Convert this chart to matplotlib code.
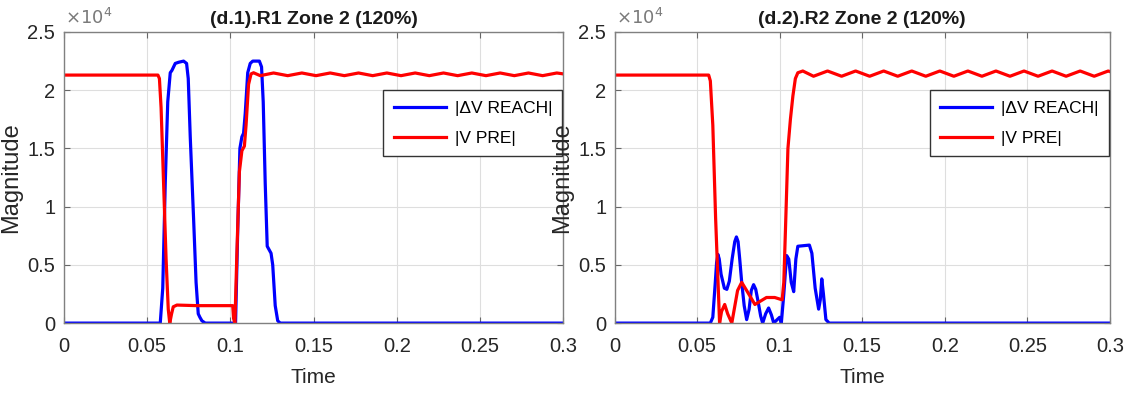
import numpy as np
import matplotlib
matplotlib.use("Agg")
import matplotlib.pyplot as plt
from matplotlib.ticker import FuncFormatter

plt.rcParams['font.family'] = ['Liberation Sans', 'DejaVu Sans']

SCALE = 1e4

# ---- (d.1) R1 : values in units of 1e4 ----
r1_reach_t = [0, 0.058, 0.0595, 0.061, 0.0625, 0.064, 0.065, 0.066, 0.067, 0.069, 0.072, 0.0738,
              0.0748, 0.076, 0.078, 0.0795, 0.0808, 0.0818, 0.083, 0.085, 0.1, 0.1032, 0.1045,
              0.1058, 0.107, 0.108, 0.109, 0.1105, 0.112, 0.1135, 0.1175, 0.1188, 0.1198,
              0.121, 0.1222, 0.1245, 0.1255, 0.127, 0.1285, 0.13, 0.3]
r1_reach_v = [0, 0, 0.3, 1.2, 1.9, 2.15, 2.17, 2.2, 2.23, 2.24, 2.25, 2.23, 2.1, 1.6, 0.9, 0.35,
              0.08, 0.05, 0.02, 0.0, 0.0, 0.0, 0.8, 1.5, 1.6, 1.63, 1.8, 2.15, 2.23, 2.25, 2.25,
              2.2, 1.9, 1.2, 0.66, 0.6, 0.5, 0.15, 0.02, 0.0, 0.0]

r1_pre_t = [0, 0.0566, 0.0575, 0.0585, 0.06, 0.0615, 0.0628, 0.0637, 0.0648, 0.0658, 0.068, 0.08,
            0.09, 0.1015, 0.102, 0.1028, 0.104, 0.1055, 0.107, 0.1085, 0.1095, 0.111,
            0.1125, 0.114, 0.118, 0.126, 0.1345, 0.143, 0.1515, 0.160, 0.1685, 0.177, 0.1855,
            0.194, 0.2025, 0.211, 0.2195, 0.228, 0.2365, 0.245, 0.2535, 0.262, 0.2705, 0.279,
            0.2875, 0.296, 0.3]
r1_pre_v = [2.13, 2.13, 2.1, 1.85, 1.2, 0.55, 0.12, 0.0, 0.08, 0.14, 0.155, 0.15, 0.15, 0.15, 0.04,
            0.0, 0.6, 1.3, 1.48, 1.52, 1.7, 2.05, 2.14, 2.15, 2.125, 2.148, 2.125, 2.148, 2.125,
            2.148, 2.125, 2.148, 2.125, 2.148, 2.125, 2.148, 2.125, 2.148, 2.125, 2.148, 2.125,
            2.148, 2.125, 2.148, 2.125, 2.148, 2.14]

# ---- (d.2) R2 ----
r2_reach_t = [0, 0.058, 0.0595, 0.061, 0.0618, 0.0626, 0.0634, 0.0645, 0.0665, 0.068, 0.0695,
              0.0712, 0.0728, 0.0738, 0.0748, 0.0758, 0.077, 0.0785, 0.08, 0.0815, 0.0828,
              0.0842, 0.0855, 0.087, 0.0885, 0.0897, 0.0915, 0.0933, 0.095, 0.0964, 0.0985,
              0.1, 0.101, 0.1025, 0.1042, 0.1055, 0.107, 0.1085, 0.1098, 0.111, 0.118, 0.1195,
              0.1215, 0.1236, 0.1246, 0.1255, 0.1265, 0.128, 0.13, 0.3]
r2_reach_v = [0, 0, 0.05, 0.35, 0.52, 0.59, 0.55, 0.42, 0.3, 0.29, 0.36, 0.55, 0.7, 0.74, 0.7,
              0.55, 0.35, 0.15, 0.03, 0.12, 0.28, 0.33, 0.29, 0.18, 0.06, 0.0, 0.08, 0.13, 0.07,
              0.0, 0.03, 0.05, 0.0, 0.25, 0.58, 0.55, 0.35, 0.27, 0.55, 0.66, 0.67, 0.6, 0.3,
              0.12, 0.2, 0.38, 0.25, 0.03, 0.0, 0.0]

r2_pre_t = [0, 0.057, 0.058, 0.0595, 0.0612, 0.0628, 0.0636, 0.0648, 0.0667, 0.0685, 0.071,
            0.0725, 0.0745, 0.077, 0.08, 0.085, 0.092, 0.097, 0.1015, 0.1025, 0.1035, 0.105,
            0.1065, 0.108, 0.1095, 0.111, 0.114, 0.1205, 0.129, 0.1375, 0.146, 0.1545, 0.163,
            0.1715, 0.180, 0.1885, 0.197, 0.2055, 0.214, 0.2225, 0.231, 0.2395, 0.248, 0.2565,
            0.265, 0.2735, 0.282, 0.2905, 0.299, 0.3]
r2_pre_v = [2.13, 2.13, 2.08, 1.7, 0.9, 0.3, 0.0, 0.1, 0.16, 0.08, 0.0, 0.12, 0.28, 0.35, 0.28,
            0.16, 0.22, 0.22, 0.2, 0.35, 0.8, 1.5, 1.75, 1.95, 2.1, 2.15, 2.165, 2.12, 2.165, 2.12,
            2.165, 2.12, 2.165, 2.12, 2.165, 2.12, 2.165, 2.12, 2.165, 2.12, 2.165, 2.12, 2.165,
            2.12, 2.165, 2.12, 2.165, 2.12, 2.165, 2.16]

panels = [
    ("(d.1).R1 Zone 2 (120%)", r1_reach_t, r1_reach_v, r1_pre_t, r1_pre_v),
    ("(d.2).R2 Zone 2 (120%)", r2_reach_t, r2_reach_v, r2_pre_t, r2_pre_v),
]

fig = plt.figure(figsize=(11.36, 3.95), dpi=100)
positions = [[0.056, 0.182, 0.44, 0.737], [0.541, 0.182, 0.436, 0.737]]

for pos, (title, rt, rv, pt, pv) in zip(positions, panels):
    ax = fig.add_axes(pos)
    ax.plot(rt, np.array(rv) * SCALE, color='#0000ff', lw=2.3, label='|ΔV REACH|')
    ax.plot(pt, np.array(pv) * SCALE, color='#ff0000', lw=2.3, label='|V PRE|')
    ax.set_xlim(0, 0.3)
    ax.set_ylim(0, 2.5 * SCALE)
    ax.set_xticks([0, 0.05, 0.1, 0.15, 0.2, 0.25, 0.3])
    ax.set_yticks(np.arange(0, 2.51, 0.5) * SCALE)
    ax.xaxis.set_major_formatter(FuncFormatter(lambda v, p: f"{v:g}"))
    ax.yaxis.set_major_formatter(FuncFormatter(lambda v, p: f"{v / SCALE:g}"))
    ax.tick_params(direction='in', length=4, labelsize=14.5, color='#666666',
                   top=True, right=True, labelcolor='#262626')
    ax.tick_params(axis='x', pad=10)
    ax.tick_params(axis='y', pad=6)
    ax.grid(True, color='#dedede', lw=0.8)
    for s in ax.spines.values():
        s.set_color('#808080')
        s.set_linewidth(1.0)
    ax.set_title(title, fontsize=14, fontweight='bold', pad=6, color='#1a1a1a')
    ax.set_xlabel('Time', fontsize=15, labelpad=9, color='#262626')
    ax.set_ylabel('Magnitude', fontsize=17, labelpad=4, color='#262626')
    ax.text(0.003, 1.015, r'$\times10^{4}$', transform=ax.transAxes, fontsize=13,
            color='#7a7a7a', va='bottom', ha='left')
    leg = ax.legend(loc='upper right', bbox_to_anchor=(0.998, 0.80), fontsize=12.5,
                    handlelength=3.0, handletextpad=0.5, fancybox=False, framealpha=1,
                    edgecolor='#333333', borderpad=0.6, labelspacing=0.85,
                    borderaxespad=0.0)
    leg.get_frame().set_linewidth(1.0)

fig.savefig('out.png', dpi=100)
